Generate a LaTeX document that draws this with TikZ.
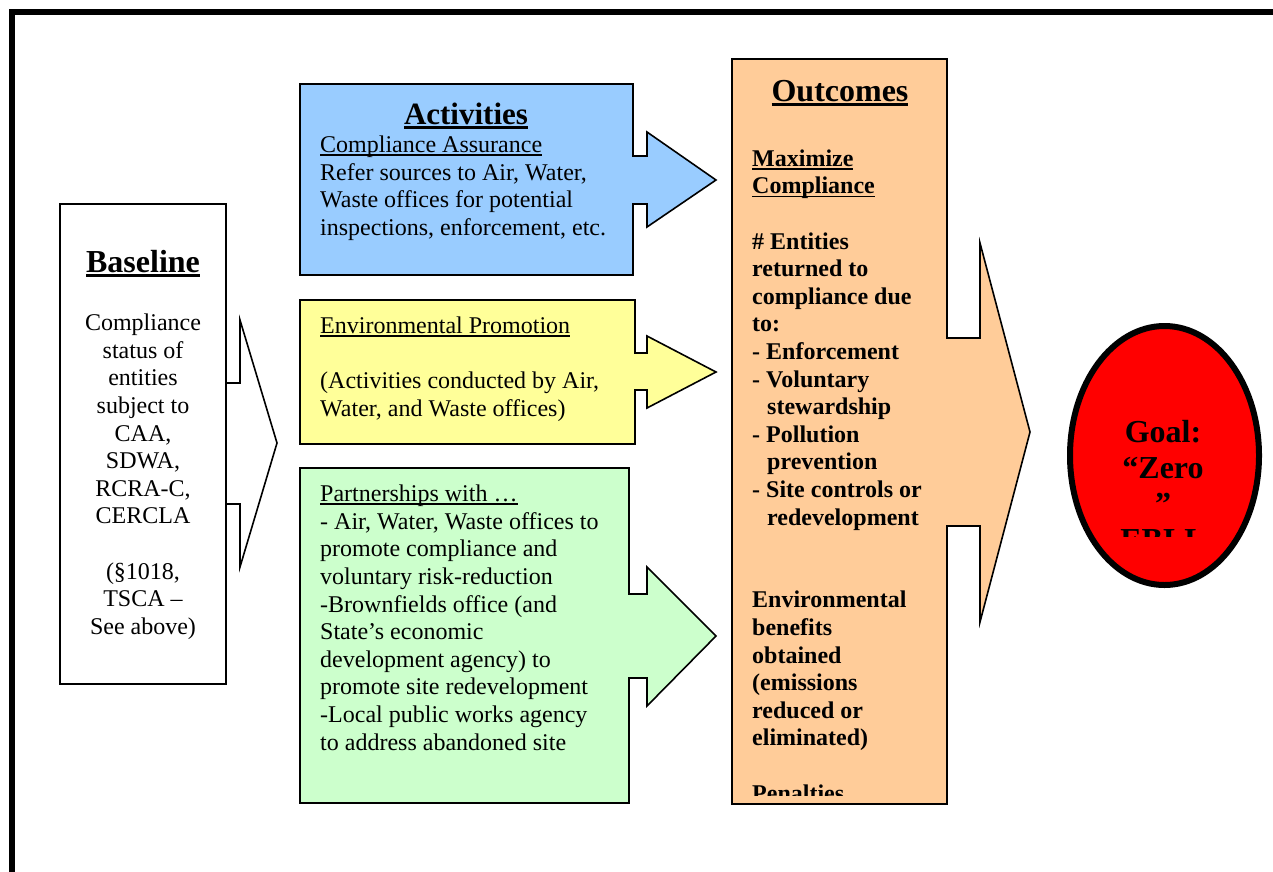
\documentclass[tikz,border=0pt]{standalone}
\usepackage{fontspec}
\setmainfont{Liberation Serif}
\definecolor{actblue}{HTML}{99CCFF}
\definecolor{promyellow}{HTML}{FFFF99}
\definecolor{partgreen}{HTML}{CCFFCC}
\definecolor{outorange}{HTML}{FFCC99}
\definecolor{goalred}{HTML}{FF0000}
\newcommand\myul[3]{\setbox0\hbox{#3}\rlap{\rule[-#1]{\wd0}{#2}}\box0}
\newcommand\tstrut{\rule{0pt}{17pt}}
\tikzset{
  shapeline/.style={draw=black, line width=1.6pt, line join=miter},
  bodytxt/.style={inner sep=0pt, font=\fontsize{24}{27.6}\selectfont},
  boldtxt/.style={inner sep=0pt, font=\fontsize{24}{27.6}\selectfont\bfseries},
  headtxt/.style={inner sep=0pt, anchor=base, font=\fontsize{32}{36}\selectfont\bfseries},
  goaltxt/.style={inner sep=0pt, font=\fontsize{32}{36}\selectfont\bfseries}
}
\begin{document}
\begin{tikzpicture}[x=1pt,y=-1pt]
\useasboundingbox (0,0) rectangle (1273,871);
\fill[white] (0,0) rectangle (1273,871);
\begin{scope}
\clip (0,0) rectangle (1273,871);
\draw[line width=6pt] (12,12) rectangle (1300,900);
\end{scope}

% Baseline arrow and box
\draw[shapeline, fill=white] (200,383) -- (240,383) -- (240,320) -- (277,443) -- (240,567) -- (240,504) -- (200,504) -- cycle;
\draw[shapeline, fill=white] (60,204) rectangle (226,684);
\node[headtxt] (bhead) at (143,272) {\myul{5pt}{2.8pt}{Baseline}};
\node[bodytxt, anchor=north, align=center] (btext) at (143,313.5) {\tstrut Compliance\\status of\\entities\\subject to\\CAA,\\SDWA,\\RCRA-C,\\CERCLA\\[27.6pt](§1018,\\TSCA –\\See above)};

% Activities
\draw[shapeline, fill=actblue] (300,84) -- (633,84) -- (633,156) -- (647,156) -- (647,132) -- (716,180) -- (647,227) -- (647,204) -- (633,204) -- (633,275) -- (300,275) -- cycle;
\node[headtxt, font=\fontsize{31}{35}\selectfont\bfseries] (ahead) at (466,124) {\myul{5pt}{2.8pt}{Activities}};
\node[bodytxt, anchor=north west, align=left] (atext) at (320,135.5) {\tstrut\myul{3pt}{1.3pt}{Compliance Assurance}\\Refer sources to Air, Water,\\Waste offices for potential\\inspections, enforcement, etc.};

% Environmental Promotion
\draw[shapeline, fill=promyellow] (300,300) -- (635,300) -- (635,353) -- (647,353) -- (647,336) -- (716,372) -- (647,408) -- (647,390) -- (635,390) -- (635,444) -- (300,444) -- cycle;
\node[bodytxt, anchor=north west, align=left] (ptext) at (320,316.5) {\tstrut\myul{3pt}{1.3pt}{Environmental Promotion}\\[27.6pt](Activities conducted by Air,\\Water, and Waste offices)};

% Partnerships
\draw[shapeline, fill=partgreen] (300,468) -- (629,468) -- (629,594) -- (647,594) -- (647,567) -- (716,636) -- (647,706) -- (647,678) -- (629,678) -- (629,803) -- (300,803) -- cycle;
\node[bodytxt, anchor=north west, align=left] (gtext) at (320,484.5) {\tstrut\myul{3pt}{1.3pt}{Partnerships with …}\\- Air, Water, Waste offices to\\promote compliance and\\voluntary risk-reduction\\-Brownfields office (and\\State’s economic\\development agency) to\\promote site redevelopment\\-Local public works agency\\to address abandoned site};

% Outcomes
\draw[shapeline, fill=outorange] (732,59) -- (947,59) -- (947,338) -- (980,338) -- (980,243) -- (1030,432) -- (980,622) -- (980,526) -- (947,526) -- (947,804) -- (732,804) -- cycle;
\node[headtxt] (ohead) at (840,101) {\myul{5pt}{2.8pt}{Outcomes}};
\begin{scope}
\clip (733,60) rectangle (946,795);
\node[boldtxt, anchor=north west, align=left] (otext) at (752,149) {\tstrut\myul{3.5pt}{1.8pt}{Maximize}\\\myul{3.5pt}{1.8pt}{Compliance}\\[27.6pt]\# Entities\\returned to\\compliance due\\to:\\- Enforcement\\- Voluntary\\\hspace*{15pt}stewardship\\- Pollution\\\hspace*{15pt}prevention\\- Site controls or\\\hspace*{15pt}redevelopment\\[55.2pt]Environmental\\benefits\\obtained\\(emissions\\reduced or\\eliminated)\\[27.6pt]Penalties};
\end{scope}

% Goal
\draw[line width=6pt, fill=goalred] (1164.5,455.5) ellipse [x radius=94.5, y radius=129.5];
\begin{scope}
\clip (1070,330) rectangle (1260,536);
\node[goaltxt, anchor=north, align=center] (gtxt) at (1163,419) {\rule{0pt}{23pt}Goal:\\“Zero\\”\\EBLL};
\end{scope}
\end{tikzpicture}
\end{document}
